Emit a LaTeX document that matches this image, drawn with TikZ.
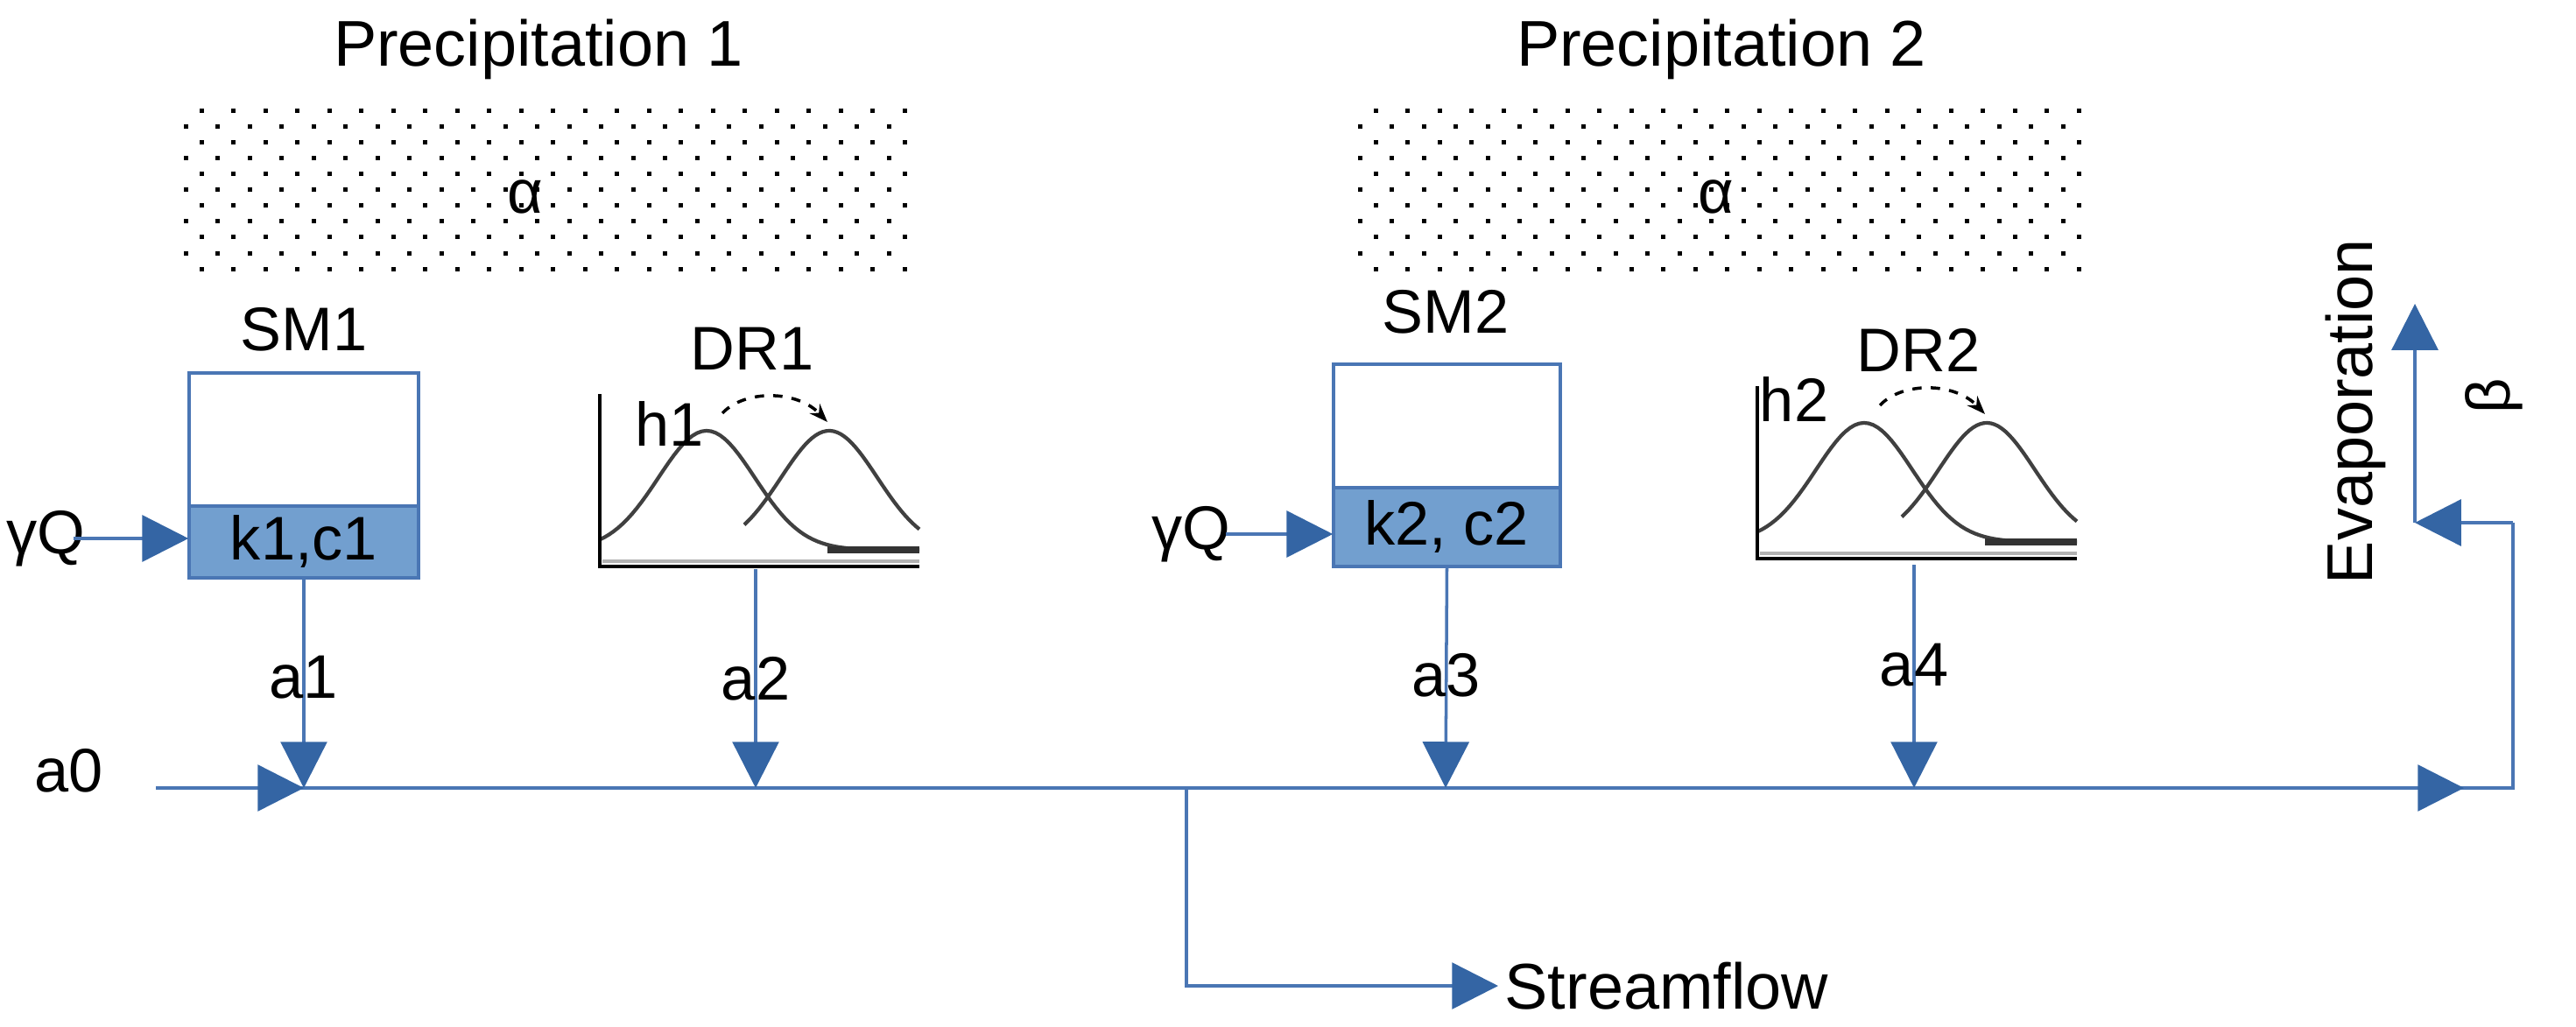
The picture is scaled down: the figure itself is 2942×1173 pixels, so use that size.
\documentclass[tikz,border=0pt]{standalone}
\usepackage{fontspec}
\setmainfont{Liberation Sans}
\usetikzlibrary{arrows.meta}
\definecolor{ln}{HTML}{4A76B4}
\definecolor{tip}{HTML}{3465A4}
\definecolor{boxfill}{HTML}{729FCF}
\tikzset{
  conn/.style={draw=ln, line width=1pt},
  arr/.style={conn, -{Triangle[length=15pt,width=15pt,fill=tip,color=tip]}},
  lbl/.style={font=\fontsize{20}{24}\selectfont, inner sep=0pt},
  big/.style={font=\fontsize{21}{25}\selectfont, inner sep=0pt},
  curve/.style={draw=black!75, line width=1.2pt},
  axis/.style={draw=black, line width=1.4pt},
}
\newcommand{\dotfield}[2]{%
  \pgfmathsetmacro{\xb}{#1+36.5}%
  \foreach \r in {0,...,10}{%
    \pgfmathsetmacro{\yy}{127+18*\r}%
    \pgfmathsetmacro{\off}{mod(\r,2)==0 ? 18 : 0}%
    \foreach \xx in {#1,\xb,...,#2}{%
      \pgfmathsetmacro{\px}{\xx+\off}%
      \ifdim \px pt<#2pt \fill[black] (\px-2.5,\yy-2.5) rectangle (\px+2.5,\yy+2.5);\fi
    }}}
\newcommand{\chart}{%
  \begin{scope}
    \clip (600,380) rectangle (1052,660);
    \draw[curve] plot[domain=685:1050, samples=70] (\x,{628-136*exp(-((\x-807)/55)^2/2)});
    \draw[curve] plot[domain=850:1050, samples=50] (\x,{628-136*exp(-((\x-947)/55)^2/2)});
  \end{scope}
  \draw[line width=2pt, black!80] (945,628) -- (1050,628);
  \draw[black!30, line width=1pt] (688,641) -- (1050,641);
  \draw[axis] (685,450) -- (685,647) -- (1050,647);
  \draw[black, dashed, line width=1pt, -{Stealth[length=6pt]}] (825,472) .. controls (850,445) and (910,445) .. (945,482);
}
\begin{document}
\begin{tikzpicture}[x=0.01cm, y=-0.01cm]
\useasboundingbox (0,0) rectangle (2942,1173);
\node[big] (p1) at (615,56) {Precipitation 1};
\node[big] (p2) at (1966,56) {Precipitation 2};
\dotfield{212}{1037}
\dotfield{1553}{2386}
\node[lbl] (al1) at (600,225) {α};
\node[lbl] (al2) at (1960,225) {α};
% SM1
\fill[boxfill] (216,578) rectangle (478,660);
\draw[ln, line width=1pt] (216,426) rectangle (478,660) (216,578) -- (478,578);
\node[inner sep=0pt, minimum width=2.62cm, minimum height=2.34cm] (sm1) at (347,543) {};
\node[lbl] (sm1l) at (347,376) {SM1};
\node[lbl] (k1) at (347,619) {k1,c1};
\node[lbl] (yq1) at (52,615) {γQ};
\draw[arr] (84,615) -- (sm1.west |- 0,615);
% DR1
\chart
\node[lbl] (dr1) at (859,398) {DR1};
\node[lbl] (h1) at (765,484) {h1};
\coordinate (dr1b) at (863,650);
% SM2
\fill[boxfill] (1523,557) rectangle (1782,647);
\draw[ln, line width=1pt] (1523,416) rectangle (1782,647) (1523,557) -- (1782,557);
\node[inner sep=0pt, minimum width=2.59cm, minimum height=2.31cm] (sm2) at (1652.5,531.5) {};
\node[lbl] (sm2l) at (1651,356) {SM2};
\node[lbl] (k2) at (1652,602) {k2, c2};
\node[lbl] (yq2) at (1360,610) {γQ};
\draw[arr] (1400,610) -- (sm2.west |- 0,610);
% DR2
\begin{scope}[shift={(1322,-9)}]
\chart
\end{scope}
\node[lbl] (dr2) at (2191,400) {DR2};
\node[lbl] (h2) at (2049,456) {h2};
\coordinate (dr2b) at (2186,645);
% main line
\coordinate (m0) at (178,900);
\coordinate (j1) at (347,900);
\coordinate (j2) at (863,900);
\coordinate (js) at (1355,900);
\coordinate (j3) at (1651,900);
\coordinate (j4) at (2186,900);
\coordinate (mend) at (2814,900);
\coordinate (rc) at (2870,900);
\coordinate (ru) at (2870,597);
\coordinate (ev) at (2758,597);
\coordinate (evt) at (2758,347);
\coordinate (sd) at (1355,1126);
\coordinate (st) at (1711,1126);
\node[lbl] (a0) at (79,880) {a0};
\draw[conn] (m0) -- (mend);
\draw[arr] (m0) -- (j1);
\draw[arr] (j2) -- (mend);
\draw[arr] (sm1.south) -- node[lbl, pos=0.47] {a1} (j1);
\draw[arr] (dr1b) -- node[lbl, pos=0.5] {a2} (j2);
\draw[arr] (sm2.south) -- node[lbl, pos=0.49] {a3} (j3);
\draw[arr] (dr2b) -- node[lbl, pos=0.45] {a4} (j4);
\draw[arr] (js) -- (sd) -- (st);
\node[big, anchor=west] (sf) at (1718,1126) {Streamflow};
\draw[conn] (mend) -- (rc) -- (ru);
\draw[arr] (ru) -- (ev);
\draw[arr] (ev) -- (evt);
\node[big, rotate=90] (evl) at (2690,470) {Evaporation};
\node[lbl, rotate=90] (beta) at (2848,452) {β};
\end{tikzpicture}
\end{document}
